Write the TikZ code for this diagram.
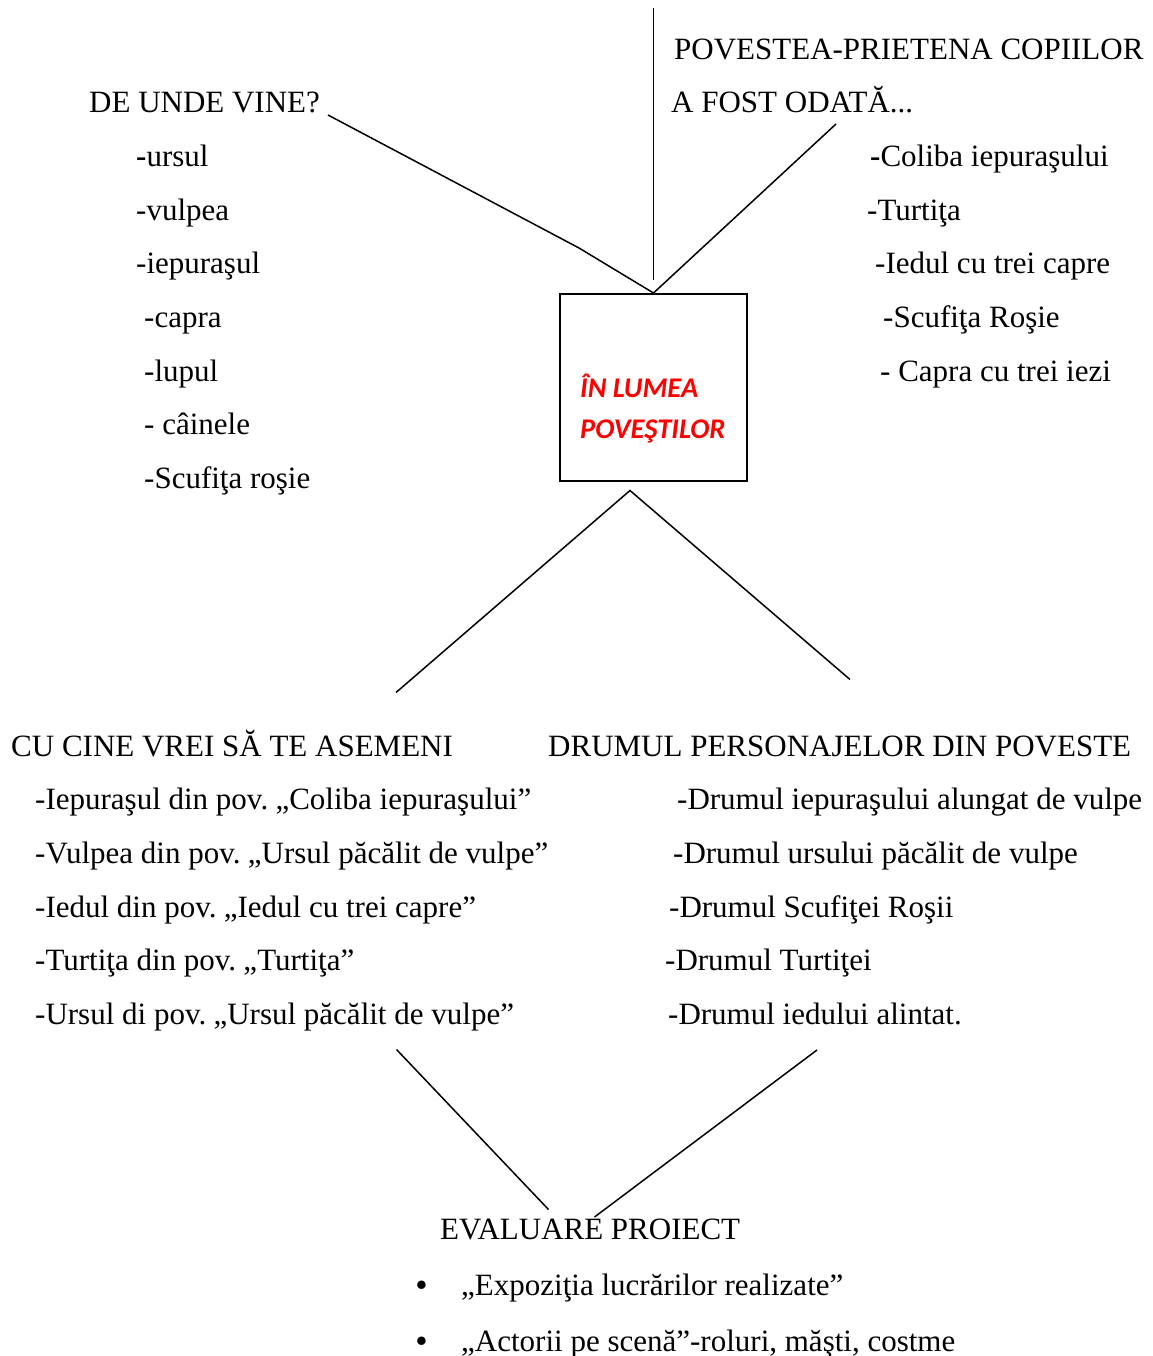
\documentclass[tikz,border=0pt]{standalone}
\usepackage{fontspec}
\setmainfont{Liberation Serif}
\newfontfamily\boxfont{Carlito}
\newcommand{\roq}{\hspace{-3pt}„}
\begin{document}
\begin{tikzpicture}[x=1pt,y=-1pt,
  txt/.style={anchor=base west, inner sep=0pt, font=\fontsize{31}{37}\selectfont},
  bul/.style={anchor=base west, inner sep=0pt, font=\bfseries\fontsize{31}{37}\selectfont},
  redtxt/.style={anchor=base west, inner sep=0pt, text=red, font=\boxfont\bfseries\itshape\fontsize{28.5}{32}\selectfont},
  ln/.style={line width=1.5pt, black},
  centerbox/.style={draw, line width=2pt, minimum width=187pt, minimum height=187pt, inner sep=0pt}]
\useasboundingbox (0,0) rectangle (1152,1356);

% central box
\node[centerbox] (box) at (653.5,387.5) {};
\node[redtxt] (t1) at (580,397.5) {ÎN LUMEA};
\node[redtxt] (t2) at (580,438.5) {POVEŞTILOR};

% top-left list
\node[txt] (dv) at (89,113) {DE UNDE VINE?};
\node[txt] (l1) at (136,166.6) {\textbf{-}ursul};
\node[txt] (l2) at (136,220.2) {-vulpea};
\node[txt] (l3) at (136,273.8) {-iepuraşul};
\node[txt] (l4) at (144,327.4) {-capra};
\node[txt] (l5) at (144,381) {-lupul};
\node[txt] (l6) at (144,434.6) {- câinele};
\node[txt] (l7) at (144,488.2) {-Scufiţa roşie};

% top-right list
\node[txt] (pp) at (674,59.4) {POVESTEA-PRIETENA COPIILOR};
\node[txt] (af) at (671,113) {A FOST ODATĂ...};
\node[txt] (r1) at (870,166.6) {\textbf{-}Coliba iepuraşului};
\node[txt] (r2) at (867,220.2) {-Turtiţa};
\node[txt] (r3) at (875,273.8) {-Iedul cu trei capre};
\node[txt] (r4) at (883,327.4) {-Scufiţa Roşie};
\node[txt] (r5) at (880,381) {- Capra cu trei iezi};

% bottom-left list
\node[txt] (cc) at (11,756.2) {CU CINE VREI SĂ TE ASEMENI};
\node[txt] (b1) at (35,809.8) {-Iepuraşul din pov. \roq Coliba iepuraşului”};
\node[txt] (b2) at (35,863.4) {-Vulpea din pov. \roq Ursul păcălit de vulpe”};
\node[txt] (b3) at (35,917) {-Iedul din pov. \roq Iedul cu trei capre”};
\node[txt] (b4) at (35,970.6) {-Turtiţa din pov. \roq Turtiţa”};
\node[txt] (b5) at (35,1024.2) {-Ursul di pov. \roq Ursul păcălit de vulpe”};

% bottom-right list
\node[txt] (dp) at (548,756.2) {DRUMUL PERSONAJELOR DIN POVESTE};
\node[txt] (d1) at (677,809.8) {-Drumul iepuraşului alungat de vulpe};
\node[txt] (d2) at (673,863.4) {-Drumul ursului păcălit de vulpe};
\node[txt] (d3) at (669,917) {-Drumul Scufiţei Roşii};
\node[txt] (d4) at (665,970.6) {-Drumul Turtiţei};
\node[txt] (d5) at (668,1024.2) {-Drumul iedului alintat.};

% evaluation
\node[txt] (ev) at (440,1239) {EVALUARE PROIECT};
\node[bul] (bu1) at (416,1295) {•};
\node[txt] (e1) at (461,1295) {„Expoziţia lucrărilor realizate”};
\node[bul] (bu2) at (416,1351) {•};
\node[txt] (e2) at (461,1351) {„Actorii pe scenă”-roluri, măşti, costme};

% connector end points
\coordinate (ulA) at (328,115);
\coordinate (ulB) at (579,248);
\coordinate (vtA) at (653.5,8);
\coordinate (vtB) at (653.5,280);
\coordinate (urA) at (836,124);
\coordinate (apex) at (630,490.5);
\coordinate (llA) at (396,692.5);
\coordinate (lrA) at (850,679.5);
\coordinate (blA) at (396.5,1049.5);
\coordinate (blB) at (548.5,1209.5);
\coordinate (brA) at (817,1050);
\coordinate (brB) at (594.5,1217);

% connectors
\draw[ln] (ulA) -- (ulB) -- (box.north);
\draw[ln] (vtA) -- (vtB);
\draw[ln] (urA) -- (box.north);
\draw[ln] (llA) -- (apex) -- (lrA);
\draw[ln] (blA) -- (blB);
\draw[ln] (brA) -- (brB);
\end{tikzpicture}
\end{document}
